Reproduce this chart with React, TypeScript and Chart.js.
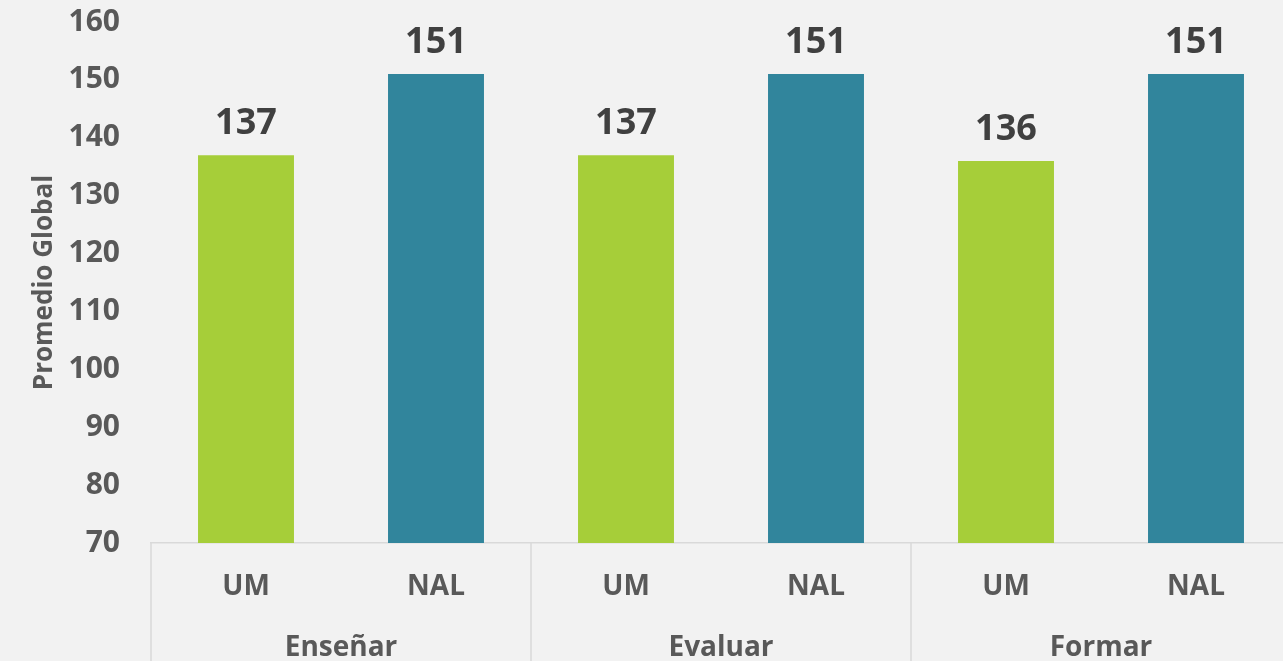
import React, { useEffect, useRef } from "react";
import { Chart, registerables } from "chart.js";

Chart.register(...registerables);

const groups = ["Enseñar", "Evaluar", "Formar"];
const seriesNames = ["UM", "NAL"];
const umValues = [137, 137, 136];
const nalValues = [151, 151, 151];
const yTicks = [70, 80, 90, 100, 110, 120, 130, 140, 150, 160];

const GREEN = "#a6ce39";
const TEAL = "#31859c";
const FONT = "'Open Sans', sans-serif";

export default function App() {
  const ref = useRef<HTMLCanvasElement | null>(null);

  useEffect(() => {
    if (!ref.current) return;
    const labels: string[] = [];
    const values: number[] = [];
    const colors: string[] = [];
    groups.forEach((g, i) => {
      labels.push(seriesNames[0]);
      values.push(umValues[i]);
      colors.push(GREEN);
      labels.push(seriesNames[1]);
      values.push(nalValues[i]);
      colors.push(TEAL);
    });

    const bgPlugin = {
      id: "bg",
      beforeDraw(chart: any) {
        const { ctx, width, height } = chart;
        ctx.save();
        ctx.fillStyle = "#f2f2f2";
        ctx.fillRect(0, 0, width, height);
        ctx.restore();
      },
    };

    const decorPlugin = {
      id: "decor",
      afterDraw(chart: any) {
        const { ctx } = chart;
        const x = chart.scales.x;
        const area = chart.chartArea;
        ctx.save();
        // separators
        ctx.strokeStyle = "#d9d9d9";
        ctx.lineWidth = 1.5;
        for (let gi = 0; gi < groups.length; gi++) {
          const px = x.getPixelForValue(gi * seriesNames.length - 0.5);
          ctx.beginPath();
          ctx.moveTo(px, area.bottom);
          ctx.lineTo(px, chart.height);
          ctx.stroke();
        }
        // group labels
        ctx.fillStyle = "#595959";
        ctx.font = `bold 28px ${FONT}`;
        ctx.textAlign = "center";
        ctx.textBaseline = "middle";
        groups.forEach((g, gi) => {
          const px = x.getPixelForValue(gi * seriesNames.length + (seriesNames.length - 1) / 2);
          ctx.fillText(g, px, 648);
        });
        // data labels
        const meta = chart.getDatasetMeta(0);
        ctx.fillStyle = "#404040";
        ctx.font = `bold 36px ${FONT}`;
        meta.data.forEach((bar: any, i: number) => {
          const v = chart.data.datasets[0].data[i];
          ctx.fillText(String(v), bar.x, bar.y - 31);
        });
        ctx.restore();
      },
    };

    const chart = new Chart(ref.current, {
      type: "bar",
      data: {
        labels,
        datasets: [
          {
            data: values,
            backgroundColor: colors,
            borderWidth: 0,
            categoryPercentage: 1,
            barPercentage: 0.505,
          },
        ],
      },
      options: {
        responsive: false,
        animation: false,
        layout: { padding: { top: 0, right: 0, bottom: 0, left: 0 } },
        plugins: {
          legend: { display: false },
          tooltip: { enabled: false },
        },
        scales: {
          x: {
            grid: { display: false, drawTicks: false },
            border: { display: true, color: "#d9d9d9", width: 1.5 },
            ticks: {
              color: "#595959",
              font: { family: FONT, size: 28, weight: "bold" },
              padding: 27,
            },
            afterFit(scale: any) {
              scale.height = 118;
            },
          },
          y: {
            min: yTicks[0],
            max: yTicks[yTicks.length - 1],
            grid: { display: false, drawTicks: false },
            border: { display: false },
            afterBuildTicks(scale: any) {
              scale.ticks = yTicks.map((v) => ({ value: v }));
            },
            ticks: {
              color: "#595959",
              font: { family: FONT, size: 30, weight: "bold" },
              padding: 31,
            },
            title: {
              display: true,
              text: "Promedio Global",
              color: "#595959",
              font: { family: FONT, size: 26, weight: "bold" },
              padding: { top: 29, bottom: 0 },
            },
            afterFit(scale: any) {
              scale.width = 151;
              scale.paddingTop = 22;
              scale.paddingBottom = 0;
            },
          },
        },
      },
      plugins: [bgPlugin, decorPlugin],
    });
    return () => chart.destroy();
  }, []);

  return (
    <div
      style={{
        position: "fixed",
        left: 0,
        top: 0,
        width: 1283,
        height: 661,
        overflow: "hidden",
        background: "#f2f2f2",
      }}
    >
      <canvas ref={ref} width={1291} height={661} style={{ display: "block" }} />
    </div>
  );
}
